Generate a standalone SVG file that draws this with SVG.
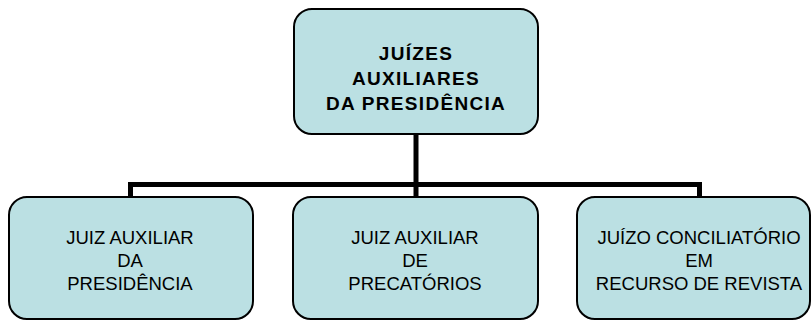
<svg xmlns="http://www.w3.org/2000/svg" width="812" height="320" viewBox="0 0 812 320">
<style>
.box{fill:#BBE0E3;stroke:#000;stroke-width:2}
.conn{fill:none;stroke:#000;stroke-width:5;stroke-linejoin:miter}
.t{font-family:"Liberation Sans",Arial,sans-serif;fill:#000;text-anchor:middle}
.tb{font-size:19px;font-weight:bold;letter-spacing:1.3px}
.tn{font-size:18.5px}
</style>
<rect width="812" height="320" fill="#fff"/>
<g id="connectors">
<path class="conn" d="M130.5 197 V184.5 H699.5 V197"/>
<path class="conn" d="M416 134 V197"/>
</g>
<g id="node-top">
<rect class="box" x="294" y="9" width="244" height="125" rx="18"/>
<text class="t tb" x="416" y="60">JUÍZES</text>
<text class="t tb" x="416" y="85">AUXILIARES</text>
<text class="t tb" x="416" y="109.5">DA PRESIDÊNCIA</text>
</g>
<g id="node-presidencia">
<rect class="box" x="9" y="197" width="244" height="122" rx="18"/>
<text class="t tn" x="130" y="244">JUIZ AUXILIAR</text>
<text class="t tn" x="130" y="267">DA</text>
<text class="t tn" x="130" y="290">PRESIDÊNCIA</text>
</g>
<g id="node-precatorios">
<rect class="box" x="293" y="197" width="245" height="122" rx="18"/>
<text class="t tn" x="415" y="244">JUIZ AUXILIAR</text>
<text class="t tn" x="415" y="267">DE</text>
<text class="t tn" x="415" y="290">PRECATÓRIOS</text>
</g>
<g id="node-revista">
<rect class="box" x="577" y="197" width="233" height="122" rx="18"/>
<text class="t tn" x="699" y="244">JUÍZO CONCILIATÓRIO</text>
<text class="t tn" x="699" y="267">EM</text>
<text class="t tn" x="699" y="290">RECURSO DE REVISTA</text>
</g>
</svg>
